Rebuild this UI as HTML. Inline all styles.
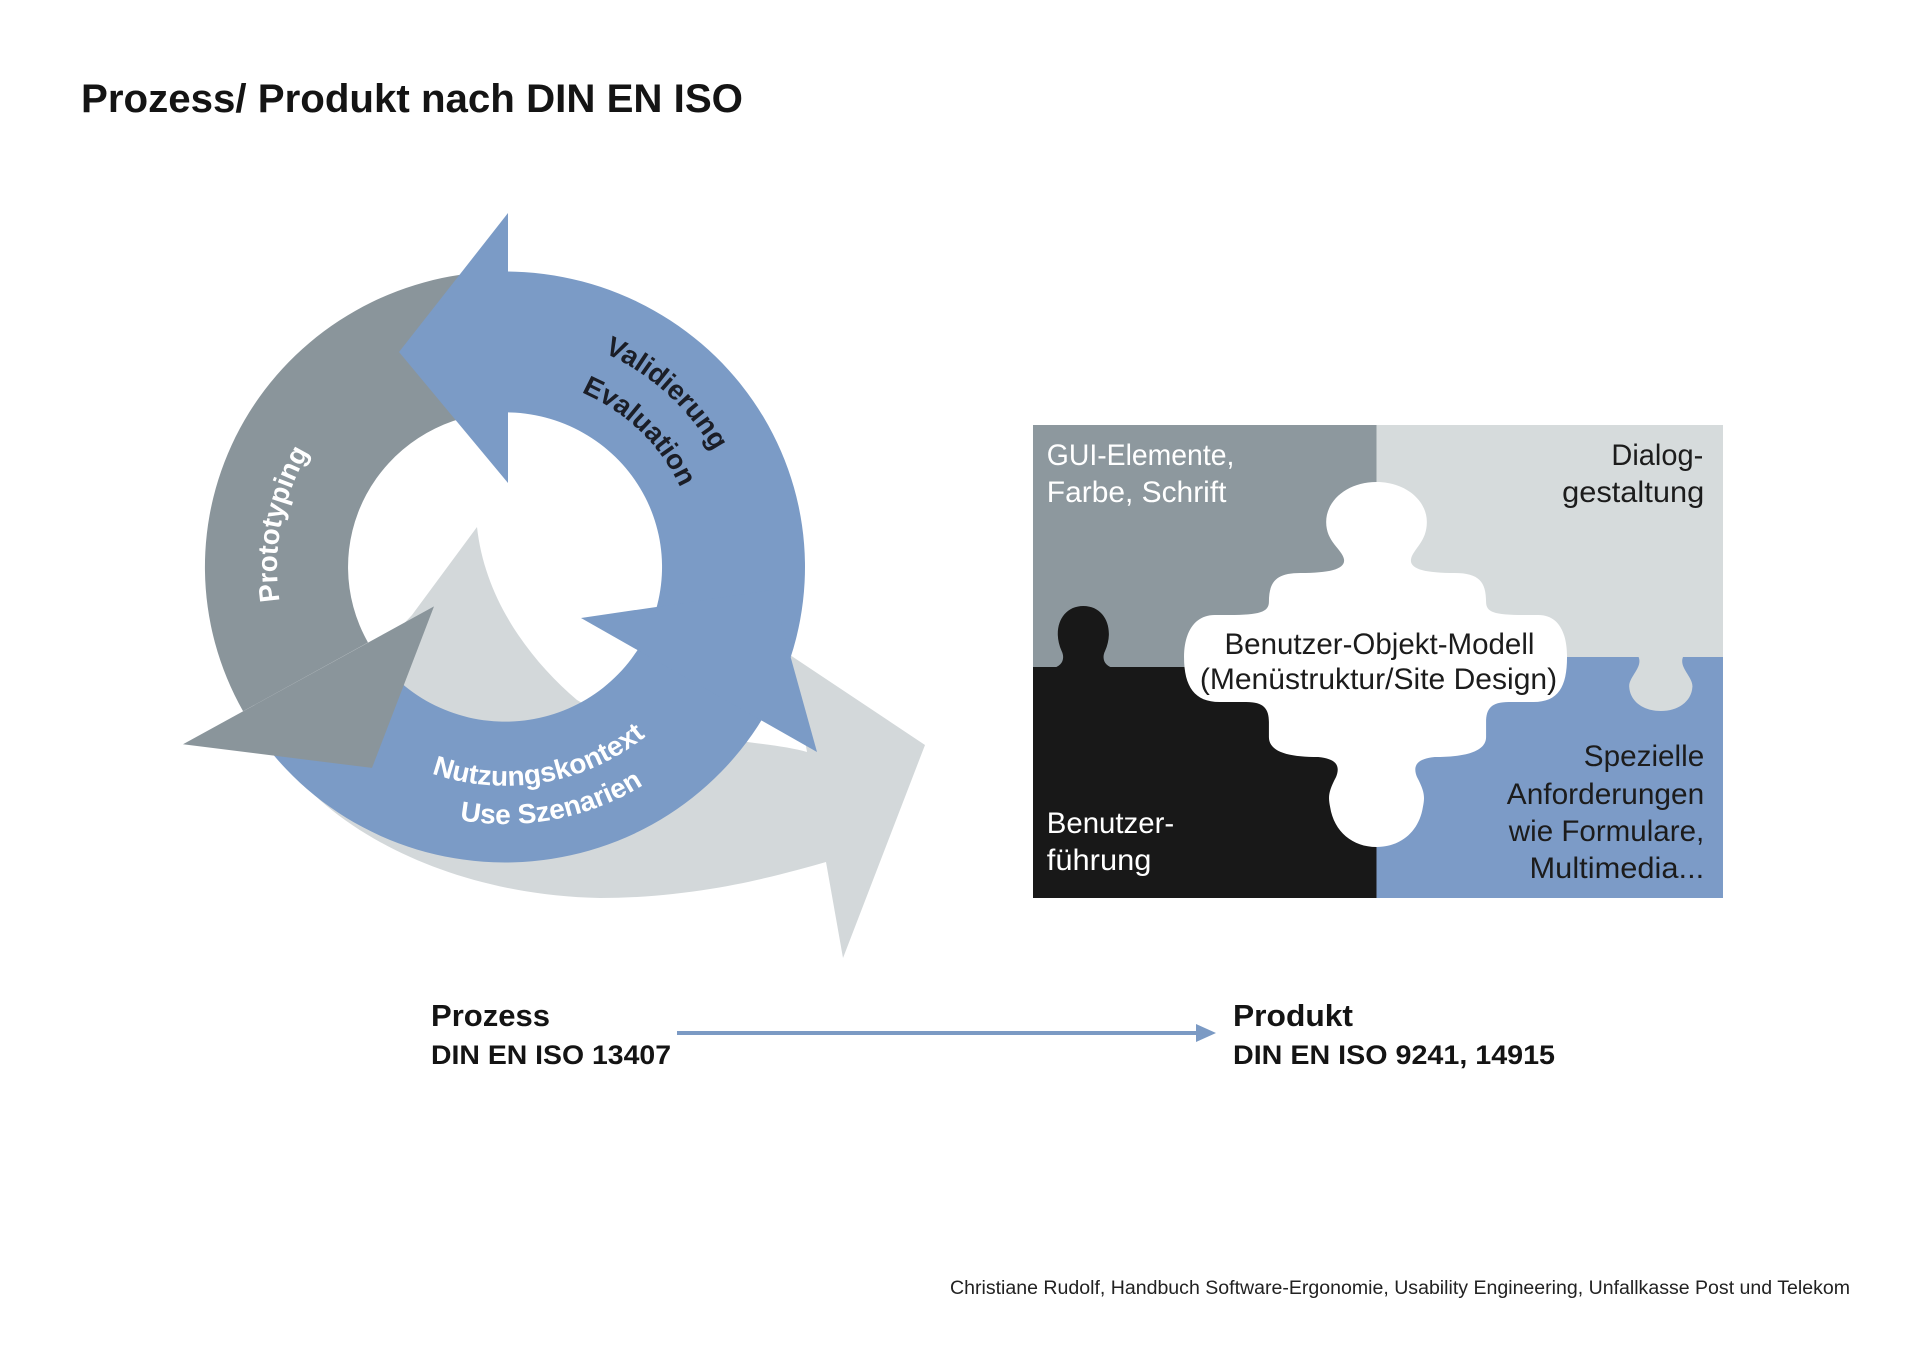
<!DOCTYPE html>
<html>
<head>
<meta charset="utf-8">
<style>
  html, body { margin: 0; padding: 0; background: #ffffff; }
  body { width: 1920px; height: 1358px; overflow: hidden; }
  svg { display: block; }
  .sans { font-family: "Liberation Sans", "DejaVu Sans", sans-serif; }
</style>
</head>
<body>
<svg width="1920" height="1358" viewBox="0 0 1920 1358" xmlns="http://www.w3.org/2000/svg" class="sans">
  <rect x="0" y="0" width="1920" height="1358" fill="#ffffff"/>

  <!-- Title -->
  <text x="81" y="112" font-size="40" font-weight="bold" fill="#141414" textLength="662" lengthAdjust="spacingAndGlyphs">Prozess/ Produkt nach DIN EN ISO</text>

  <!-- ===== Cycle diagram ===== -->
  <!-- Shadow (light grey) arrow -->
  <path d="M 477,527 L 412,615 L 280,755 C 330,830 450,895 600,898 C 700,898 780,875 826,862 L 843,958 L 925,745 L 790,655 L 807,752 C 760,738 640,740 577,700 C 530,660 485,600 477,527 Z" fill="#d3d8da"/>

  <g transform="matrix(1 0 0 0.985 -3 8.5)">
    <!-- Blue ring arc -->
    <path d="M 508,267 A 300,300 0 1 1 253.6,726 L 374.9,650.2 A 157,157 0 1 0 508,410 Z" fill="#7b9bc6"/>
  </g>
  <!-- Blue right arrowhead -->
  <polygon points="817,752 581,618 772,590" fill="#7b9bc6"/>

  <g transform="matrix(1 0 0 0.985 -3 8.5)">
    <!-- Grey arc (Prototyping) -->
    <path d="M 246.1,713.4 A 300,300 0 0 1 481.9,268.1 L 494.3,410.6 A 157,157 0 0 0 371,643.6 Z" fill="#8a959b"/>
    <!-- Grey arrowhead -->
    <polygon points="186,747 437,607 375,771" fill="#8a959b"/>
  </g>

  <!-- Blue top arrowhead -->
  <polygon points="508,213 508,483 399,352" fill="#7b9bc6"/>

  <g transform="matrix(1 0 0 0.985 -3 8.5)">
    <defs>
      <path id="pProto" d="M 330.8,710.5 A 228,228 0 0 1 397.5,367.6"/>
      <path id="pVal" d="M 476.8,330.1 A 239,239 0 0 1 746.8,577.4"/>
      <path id="pEval" d="M 488.8,375 A 193,193 0 0 1 700.5,581.5"/>
      <path id="pNutz" d="M 365.3,737.1 A 222,222 0 0 0 700.3,678"/>
      <path id="pUse" d="M 343.8,769.8 A 261,261 0 0 0 736.3,693.5"/>
    </defs>

    <text font-size="28" font-weight="bold" fill="#ffffff" text-anchor="middle"><textPath href="#pProto" startOffset="50%">Prototyping</textPath></text>
    <text font-size="28" font-weight="bold" fill="#1b1e27" text-anchor="middle"><textPath href="#pVal" startOffset="50%">Validierung</textPath></text>
    <text font-size="28" font-weight="bold" fill="#1b1e27" text-anchor="middle"><textPath href="#pEval" startOffset="50%">Evaluation</textPath></text>
    <text font-size="28" font-weight="bold" fill="#ffffff" text-anchor="middle"><textPath href="#pNutz" startOffset="50%">Nutzungskontext</textPath></text>
    <text font-size="28" font-weight="bold" fill="#ffffff" text-anchor="middle"><textPath href="#pUse" startOffset="50%">Use Szenarien</textPath></text>
  </g>

  <!-- ===== Puzzle ===== -->
  <g transform="matrix(0.98712 0 0 1 13.30 -3)">
    <rect x="1033" y="428" width="348" height="243" fill="#8d989e"/>
    <rect x="1381" y="428" width="351" height="233" fill="#d6dbdc"/>
    <rect x="1033" y="670" width="348" height="231" fill="#181818"/>
    <rect x="1381" y="660" width="351" height="241" fill="#7c9bc7"/>

    <!-- black knob into grey -->
    <path d="M 1052,671 C 1062,670 1066,662 1062,654 C 1052,632 1062,609 1084,609 C 1106,609 1116,632 1106,654 C 1102,662 1106,670 1116,671 Z" fill="#181818"/>
    <!-- light knob into blue -->
    <path d="M 1646,659 C 1652,670 1636,680 1637,690 C 1638,705 1652,714 1669,714 C 1686,714 1700,705 1701,690 C 1702,680 1686,670 1692,659 Z" fill="#d6dbdc"/>

    <!-- white center piece -->
    <path d="M 1381,485
      C 1410,485 1432,503 1432,525
      C 1432,545 1418,552 1416,562
      C 1414,572 1430,576 1460,576
      C 1485,576 1492,585 1492,605
      C 1492,615 1500,618 1530,618
      L 1545,618
      C 1565,618 1574,635 1574,660
      C 1574,690 1565,705 1540,705
      L 1515,705
      C 1497,705 1492,712 1492,725
      L 1492,740
      C 1492,755 1470,760 1440,760
      C 1420,762 1418,770 1422,780
      C 1430,795 1430,800 1428,810
      C 1424,835 1405,850 1381,850
      C 1357,850 1338,835 1334,810
      C 1332,800 1332,795 1340,780
      C 1344,770 1342,762 1322,760
      C 1292,760 1272,755 1272,740
      L 1272,725
      C 1272,712 1267,705 1249,705
      L 1222,705
      C 1197,705 1186,690 1186,660
      C 1186,635 1197,618 1217,618
      L 1232,618
      C 1262,618 1272,615 1272,605
      C 1272,585 1279,576 1304,576
      C 1334,576 1350,572 1348,562
      C 1346,552 1330,545 1330,525
      C 1330,503 1352,485 1381,485 Z" fill="#ffffff"/>

    <g font-size="30" fill="#ffffff">
      <text x="1047" y="468" textLength="190" lengthAdjust="spacingAndGlyphs">GUI-Elemente,</text>
      <text x="1047" y="505" textLength="182" lengthAdjust="spacingAndGlyphs">Farbe, Schrift</text>
      <text x="1047" y="836" textLength="129" lengthAdjust="spacingAndGlyphs">Benutzer-</text>
      <text x="1047" y="873" textLength="106" lengthAdjust="spacingAndGlyphs">führung</text>
    </g>
    <g font-size="30" fill="#1c1c1c">
      <text x="1619" y="468" textLength="93" lengthAdjust="spacingAndGlyphs">Dialog-</text>
      <text x="1569" y="505" textLength="144" lengthAdjust="spacingAndGlyphs">gestaltung</text>
      <text x="1227" y="657" textLength="314" lengthAdjust="spacingAndGlyphs">Benutzer-Objekt-Modell</text>
      <text x="1202" y="692" textLength="362" lengthAdjust="spacingAndGlyphs">(Menüstruktur/Site Design)</text>
      <text x="1591" y="769" textLength="122" lengthAdjust="spacingAndGlyphs">Spezielle</text>
      <text x="1513" y="807" textLength="200" lengthAdjust="spacingAndGlyphs">Anforderungen</text>
      <text x="1515" y="844" textLength="198" lengthAdjust="spacingAndGlyphs">wie Formulare,</text>
      <text x="1536" y="881" textLength="177" lengthAdjust="spacingAndGlyphs">Multimedia...</text>
    </g>
  </g>

  <!-- ===== Bottom labels and arrow ===== -->
  <g fill="#141414" font-weight="bold">
    <text x="431" y="1026" font-size="31" textLength="119" lengthAdjust="spacingAndGlyphs">Prozess</text>
    <text x="431" y="1064" font-size="27" textLength="240" lengthAdjust="spacingAndGlyphs">DIN EN ISO 13407</text>
    <text x="1233" y="1026" font-size="31" textLength="120" lengthAdjust="spacingAndGlyphs">Produkt</text>
    <text x="1233" y="1064" font-size="27" textLength="322" lengthAdjust="spacingAndGlyphs">DIN EN ISO 9241, 14915</text>
  </g>
  <line x1="677" y1="1033" x2="1200" y2="1033" stroke="#7b9ac4" stroke-width="4"/>
  <polygon points="1196,1024 1216,1033 1196,1042" fill="#7b9ac4"/>

  <!-- Footer -->
  <text x="950" y="1294" font-size="19" fill="#222222" textLength="900" lengthAdjust="spacingAndGlyphs">Christiane Rudolf, Handbuch Software-Ergonomie, Usability Engineering, Unfallkasse Post und Telekom</text>
</svg>
</body>
</html>
